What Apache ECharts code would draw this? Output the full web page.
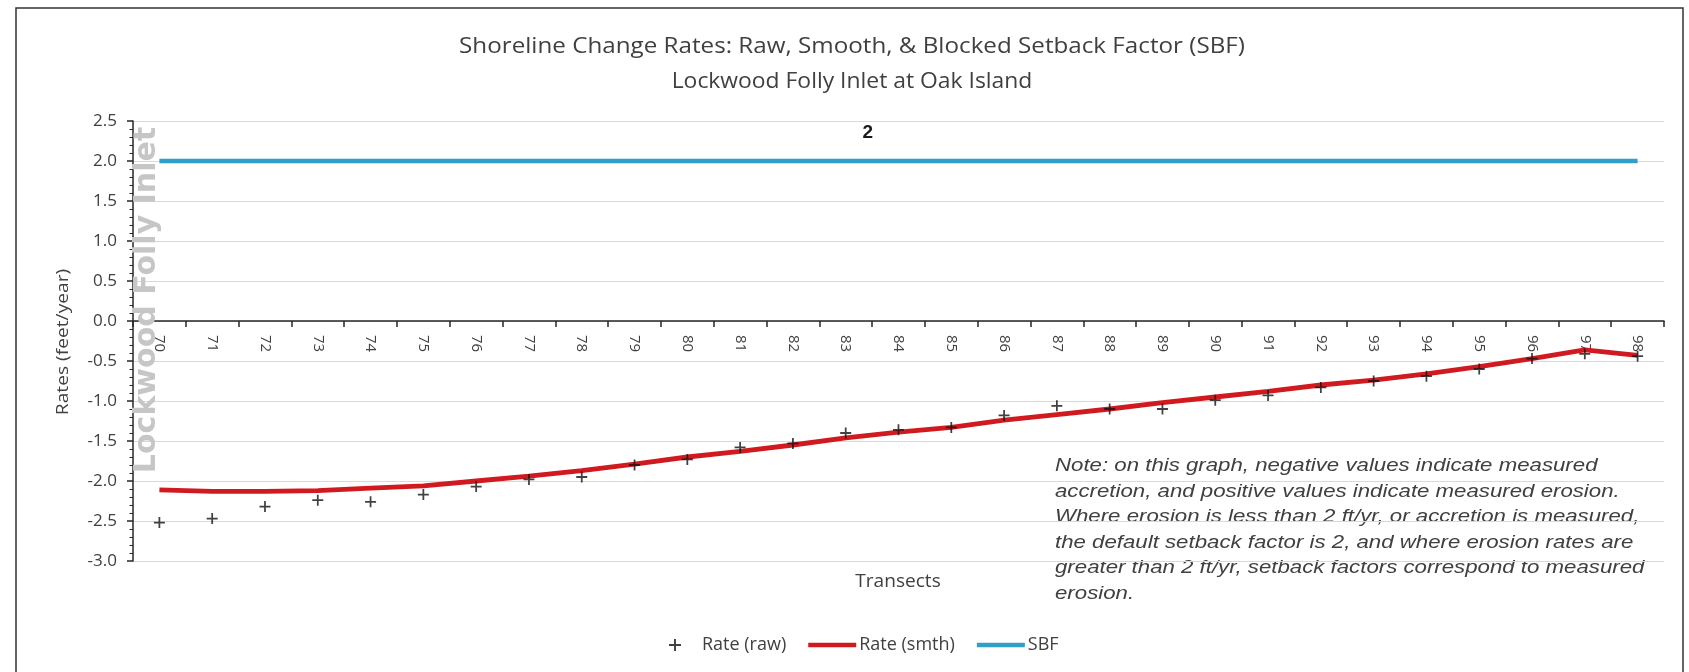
<!DOCTYPE html>
<html>
<head>
<meta charset="utf-8">
<script src="https://cdn.jsdelivr.net/npm/echarts@6/dist/echarts.min.js"></script>
<style>
  html, body { margin: 0; padding: 0; background: #ffffff; }
  #chart { width: 1689px; height: 672px; }
</style>
</head>
<body>
<div id="chart"></div>
<script>
// ---- data ----
const categories = ['70','71','72','73','74','75','76','77','78','79','80','81','82','83','84','85','86','87','88','89','90','91','92','93','94','95','96','97','98'];
const rawRates = [-2.52,-2.47,-2.32,-2.24,-2.26,-2.17,-2.07,-1.98,-1.95,-1.80,-1.73,-1.58,-1.53,-1.40,-1.36,-1.33,-1.18,-1.06,-1.10,-1.10,-0.99,-0.93,-0.83,-0.75,-0.69,-0.60,-0.47,-0.41,-0.44];
const smoothRates = [-2.11,-2.13,-2.13,-2.12,-2.09,-2.06,-2.00,-1.94,-1.87,-1.79,-1.70,-1.63,-1.55,-1.46,-1.39,-1.33,-1.24,-1.17,-1.10,-1.02,-0.95,-0.88,-0.80,-0.74,-0.66,-0.57,-0.47,-0.36,-0.43];
const sbfValues = [2,2,2,2,2,2,2,2,2,2,2,2,2,2,2,2,2,2,2,2,2,2,2,2,2,2,2,2,2];
const sbfLabelIndex = 13;
const yMin = -3.0, yMax = 2.5, yInterval = 0.5;
const titleLines = ['Shoreline Change Rates: Raw, Smooth, & Blocked Setback Factor (SBF)', 'Lockwood Folly Inlet at Oak Island'];
const noteText = [
  'Note: on this graph, negative values indicate measured',
  'accretion, and positive values indicate measured erosion.',
  'Where erosion is less than 2 ft/yr, or accretion is measured,',
  'the default setback factor is 2, and where erosion rates are',
  'greater than 2 ft/yr, setback factors correspond to measured',
  'erosion.'
];

const RED = '#d11a20';
const BLUE = '#2fa0c8';
const TXT = '#404040';
const PLUS = 'path://M4.2,0H5.8V4.2H10V5.8H5.8V10H4.2V5.8H0V4.2H4.2Z';
const BAR = 'path://M0,0H48V4.5H0Z';

const GRID_TOP = 121, GRID_BOTTOM = 111, H = 672;
const gridH = H - GRID_TOP - GRID_BOTTOM;
const zeroY = GRID_TOP + gridH * (yMax / (yMax - yMin));
const xAxisOffset = zeroY - (H - GRID_BOTTOM);

const chart = echarts.init(document.getElementById('chart'), null, { renderer: 'canvas' });

const sbfData = sbfValues.map((v, i) => i === sbfLabelIndex ? {
  value: v,
  label: { show: true, position: 'top', distance: 19, offset: [22, 0], formatter: '{c}',
           fontFamily: 'Liberation Sans', fontWeight: 'bold', fontSize: 19, color: '#1a1a1a' }
} : v);

chart.setOption({
  animation: false,
  backgroundColor: '#ffffff',
  grid: { left: 133, right: 25, top: GRID_TOP, bottom: GRID_BOTTOM, containLabel: false },
  legend: {
    left: 664, top: 631,
    itemWidth: 48, itemHeight: 12, itemGap: 22,
    textStyle: { fontFamily: 'Open Sans', fontSize: 18, color: TXT, padding: [0, 0, 0, -2] },
    data: [
      { name: 'Rate (raw)', icon: PLUS },
      { name: 'Rate (smth)', icon: BAR },
      { name: 'SBF', icon: BAR }
    ]
  },
  xAxis: {
    type: 'category',
    data: categories,
    boundaryGap: true,
    offset: xAxisOffset,
    axisLine: { show: true, onZero: false, lineStyle: { color: '#262626', width: 1.5 } },
    axisTick: { show: true, length: 6, alignWithLabel: false, lineStyle: { color: '#262626', width: 1.5 } },
    axisLabel: { rotate: -90, margin: 14, fontFamily: 'Open Sans', fontSize: 15, color: TXT, interval: 0 },
    splitLine: { show: false }
  },
  yAxis: {
    type: 'value',
    min: yMin, max: yMax, interval: yInterval,
    axisLine: { show: true, lineStyle: { color: '#262626', width: 1.5 } },
    axisTick: { show: true, length: 6, lineStyle: { color: '#262626', width: 1.5 } },
    minorTick: { show: true, splitNumber: 5, length: 3.5, lineStyle: { color: '#262626', width: 1 } },
    axisLabel: { margin: 16, fontFamily: 'Open Sans', fontSize: 17, color: TXT,
                 formatter: v => v.toFixed(1) },
    splitLine: { show: true, lineStyle: { color: '#d9d9d9', width: 1.2 } }
  },
  series: [
    {
      name: 'Rate (raw)', type: 'scatter', data: rawRates,
      symbol: PLUS, symbolSize: 11,
      itemStyle: { color: '#111111' }, z: 4
    },
    {
      name: 'Rate (smth)', type: 'line', data: smoothRates,
      symbol: 'none', smooth: false,
      lineStyle: { color: RED, width: 4.8 }, itemStyle: { color: RED }, z: 3
    },
    {
      name: 'SBF', type: 'line', data: sbfData,
      symbol: 'circle', symbolSize: 0, showSymbol: true,
      lineStyle: { color: BLUE, width: 4.5 }, itemStyle: { color: BLUE }, z: 3
    }
  ],
  graphic: [
    { type: 'rect', silent: true, z: -1,
      shape: { x: 16, y: 8, width: 1667, height: 720 },
      style: { fill: 'none', stroke: '#333333', lineWidth: 1.5 } },
    { type: 'text', silent: true, x: 852, y: 47, scaleX: 1.1,
      style: { text: titleLines[0], fontFamily: 'Open Sans', fontSize: 22, fill: TXT, align: 'center', verticalAlign: 'middle' } },
    { type: 'text', silent: true, x: 852, y: 82, scaleX: 1.04,
      style: { text: titleLines[1], fontFamily: 'Open Sans', fontSize: 22, fill: TXT, align: 'center', verticalAlign: 'middle' } },
    { type: 'text', silent: true, x: 898, y: 582, scaleX: 1.06,
      style: { text: 'Transects', fontFamily: 'Open Sans', fontSize: 18, fill: TXT, align: 'center', verticalAlign: 'middle' } },
    { type: 'text', silent: true, x: 63, y: 342, rotation: Math.PI / 2, scaleX: 1.2,
      style: { text: 'Rates (feet/year)', fontFamily: 'Open Sans', fontSize: 16, fill: TXT, align: 'center', verticalAlign: 'middle' } },
    { type: 'text', silent: true, x: 147, y: 300, rotation: Math.PI / 2, z: 1,
      style: { text: 'Lockwood Folly Inlet', fontFamily: 'DejaVu Sans', fontWeight: 'bold', fontSize: 30,
               fill: '#c6c6c6', align: 'center', verticalAlign: 'middle' } },
    { type: 'text', silent: true, x: 1055, y: 453, scaleX: 1.17,
      style: { text: noteText.join('\n'), fontFamily: 'Liberation Sans', fontStyle: 'italic', fontSize: 19,
               lineHeight: 25.5, fill: TXT, align: 'left', verticalAlign: 'top' } }
  ]
});
</script>
</body>
</html>
